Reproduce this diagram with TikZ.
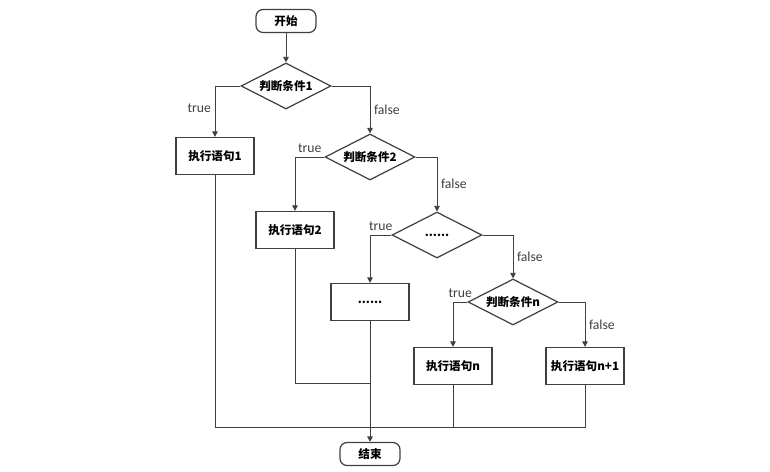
\documentclass[tikz,border=0pt]{standalone}
\usepackage{fontspec}
\setmainfont{Carlito}
\newfontfamily\cjk{Noto Sans CJK SC}
\usetikzlibrary{shapes.geometric,arrows.meta}
\definecolor{ln}{HTML}{404040}

\begin{document}
\begin{tikzpicture}[x=0.02cm,y=-0.02cm,
  line/.style={draw=ln,line width=0.55pt},
  arr/.style={line,-{Triangle[length=3.2pt,width=3.2pt]}},
  box/.style={draw=ln,line width=0.7pt,minimum width=1.56cm,minimum height=0.74cm,
    inner sep=0pt,font=\cjk\bfseries\fontsize{6.6}{8}\selectfont},
  term/.style={box,rounded corners=4pt,minimum width=1.2cm,minimum height=0.46cm},
  cond/.style={box,diamond,aspect=2,minimum width=1.8cm,minimum height=0.92cm},
  lbl/.style={font=\fontsize{7.8}{9}\selectfont,text=ln,inner sep=2pt}]
\useasboundingbox (0,0) rectangle (770,471);
% nodes
\node[term] (start) at (286,21) {开始};
\node[cond] (d1) at (286,86) {判断条件1};
\node[box] (b1) at (215,156) {执行语句1};
\node[cond] (d2) at (370,157) {判断条件2};
\node[box] (b2) at (295,230) {执行语句2};
\node[cond] (d3) at (437,235) {\textbf{......}};
\node[box] (b3) at (370,302) {\textbf{......}};
\node[cond] (d4) at (513,302) {判断条件n};
\node[box] (bn) at (453,366) {执行语句n};
\node[box] (bn1) at (585,366) {执行语句n+1};
\node[term] (end) at (370,454) {结束};
\coordinate (j1) at (370,427);
\coordinate (j2) at (370,383);
% branches
\draw[arr] (start) -- (d1);
\draw[arr] (d1.west) -| node[lbl,pos=0.72,left] {true} (b1.north);
\draw[arr] (d1.east) -| node[lbl,pos=0.75,right] {false} (d2.north);
\draw[arr] (d2.west) -| node[lbl,pos=0.25,above] {true} (b2.north);
\draw[arr] (d2.east) -| node[lbl,pos=0.75,right] {false} (d3.north);
\draw[arr] (d3.west) -| node[lbl,pos=0.25,above] {true} (b3.north);
\draw[arr] (d3.east) -| node[lbl,pos=0.75,right] {false} (d4.north);
\draw[arr] (d4.west) -| node[lbl,pos=0.25,above] {true} (bn.north);
\draw[arr] (d4.east) -| node[lbl,pos=0.75,right] {false} (bn1.north);
% merge
\draw[line] (b1.south) |- (bn1.south |- j1) -- (bn1.south);
\draw[line] (bn.south) -- (bn.south |- j1);
\draw[line] (b2.south) |- (j2);
\draw[arr] (b3.south) -- (end.north);
\end{tikzpicture}
\end{document}
